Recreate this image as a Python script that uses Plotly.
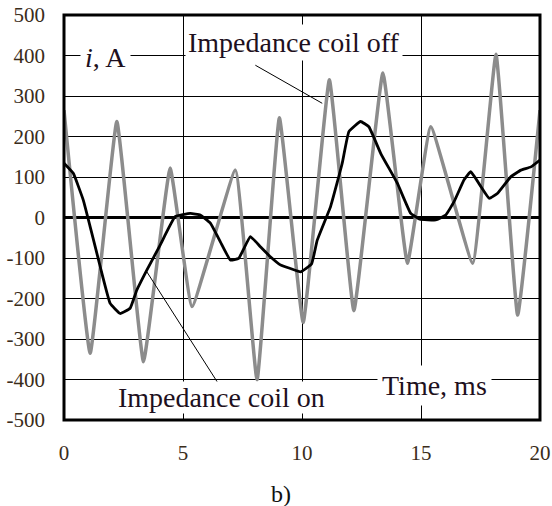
import plotly.graph_objects as go

# ---- data ----
t_off = [0, 1.1, 2.22, 3.34, 4.46, 5.38, 7.2, 8.11, 9.05, 10.05, 11.15, 12.18,
         13.4, 14.43, 15.41, 17.17, 18.15, 19.06, 20]
i_off = [265, -335, 237, -356, 122, -220, 117, -401, 246, -259, 340, -230,
         357, -113, 224, -113, 403, -241, 265]

t_on = [0, 0.39, 0.81, 1.17, 1.52, 1.94, 2.36, 2.78, 3.06, 3.48, 4.04, 4.67,
        5.31, 5.73, 6.15, 6.57, 6.99, 7.34, 7.83, 8.25, 8.67, 9.09, 9.52, 9.94,
        10.4, 10.64, 11.2, 11.69, 11.97, 12.46, 12.81, 13.31, 14.01, 14.57,
        14.95, 15.62, 16.04, 16.39, 16.81, 17.09, 17.52, 17.87, 18.22, 18.78,
        19.2, 19.62, 20]
i_on = [134, 109, 43, -39, -121, -212, -237, -224, -179, -130, -68, 2,
        10, 6, -14, -60, -105, -101, -47, -72, -97, -117, -126, -134,
        -115, -56, 27, 134, 212, 237, 224, 158, 84, 10,
        -4, -6, 6, 39, 93, 113, 76, 47, 60, 101,
        117, 125, 142]

x_ticks = [0, 5, 10, 15, 20]
y_ticks = [500, 400, 300, 200, 100, 0, -100, -200, -300, -400, -500]

# pointer lines for the labels (data coords)
ptr_off = (8.04, 376, 10.85, 282)
ptr_on = (3.48, -134, 6.57, -418)

SERIF = "Liberation Serif"
TICK_COLOR = "#3a2c1a"
TEXT_COLOR = "#1e1020"

fig = go.Figure()
fig.add_trace(go.Scatter(x=t_off, y=i_off, mode="lines",
                         line=dict(color="#8c8c8c", width=3.5, shape="spline", smoothing=0.3),
                         name="Impedance coil off"))
fig.add_trace(go.Scatter(x=t_on, y=i_on, mode="lines",
                         line=dict(color="#000000", width=2.8, shape="spline", smoothing=0.3),
                         name="Impedance coil on"))

fig.update_layout(
    width=552, height=506,
    margin=dict(l=64, r=12, t=15, b=86, autoexpand=False),
    paper_bgcolor="white", plot_bgcolor="white",
    showlegend=False,
    font=dict(family=SERIF, size=21, color=TICK_COLOR),
)
fig.update_xaxes(range=[0, 20], tickvals=x_ticks, ticktext=[str(v) for v in x_ticks],
                 showgrid=True, gridcolor="black", gridwidth=1.2,
                 zeroline=False, showline=False, ticks="", automargin=False,
                 ticklabelstandoff=18, ticklabeloverflow="allow",
                 tickfont=dict(family=SERIF, size=21, color=TICK_COLOR))
fig.update_yaxes(range=[-500, 500], tickvals=y_ticks, ticktext=[str(v) for v in y_ticks],
                 showgrid=True, gridcolor="black", gridwidth=1.2,
                 zeroline=True, zerolinecolor="black", zerolinewidth=2.6,
                 showline=False, ticks="", automargin=False,
                 ticklabelstandoff=18, ticklabeloverflow="allow",
                 tickfont=dict(family=SERIF, size=21, color=TICK_COLOR))

# pointer lines
for (x0, y0, x1, y1) in (ptr_off, ptr_on):
    fig.add_shape(type="line", xref="x", yref="y", x0=x0, y0=y0, x1=x1, y1=y1,
                  line=dict(color="black", width=1), layer="above")

# plot border
fig.add_shape(type="rect", xref="paper", yref="paper", x0=0, y0=0, x1=1, y1=1,
              line=dict(color="black", width=3), layer="above")

ann_font = dict(family=SERIF, size=28, color=TEXT_COLOR)
fig.add_annotation(x=1.75, y=396, xref="x", yref="y", text="<i>i</i>, A",
                   showarrow=False, font=ann_font, bgcolor="white", borderpad=4)
fig.add_annotation(x=9.66, y=433, xref="x", yref="y", text="Impedance coil off",
                   showarrow=False, font=ann_font, bgcolor="white", borderpad=2)
fig.add_annotation(x=6.6, y=-403, xref="x", yref="y", yanchor="top",
                   text="Impedance coil on",
                   showarrow=False, font=ann_font, bgcolor="white", borderpad=0)
fig.add_annotation(x=15.55, y=-416, xref="x", yref="y", text="Time, ms",
                   showarrow=False, font=ann_font, bgcolor="white", borderpad=4)
fig.add_annotation(x=0.456, y=-0.182, xref="paper", yref="paper", yanchor="middle",
                   text="b)", showarrow=False,
                   font=dict(family=SERIF, size=24, color="#111111"))

fig.write_html("out.html", config={"displayModeBar": False},
               post_script="document.body.style.margin='0';document.body.style.overflow='hidden';")
